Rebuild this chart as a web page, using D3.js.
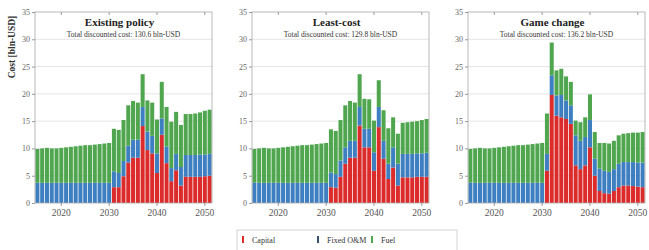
<!DOCTYPE html>
<html><head><meta charset="utf-8">
<script src="https://cdn.jsdelivr.net/npm/d3@7"></script>
<style>body{margin:0;background:#fff}svg text{font-family:"Liberation Serif","Times New Roman",serif}</style>
</head><body>
<svg id="c" width="649" height="250"></svg>
<script>
const years = [2015,2016,2017,2018,2019,2020,2021,2022,2023,2024,2025,2026,2027,2028,2029,2030,
  2031,2032,2033,2034,2035,2036,2037,2038,2039,2040,2041,2042,2043,2044,2045,2046,2047,2048,2049,2050,2051];
const xTicks = [2020, 2030, 2040, 2050];
const yTicks = [0, 5, 10, 15, 20, 25, 30, 35];
const seriesNames = ["Capital", "Fixed O&M", "Fuel"];

const titles = ["Existing policy", "Least-cost", "Game change"];
const subtitles = ["Total discounted cost: 130.6 bln-USD", "Total discounted cost: 129.8 bln-USD", "Total discounted cost: 136.2 bln-USD"];

// Existing policy
const capitalExisting = [0,0,0,0,0,0,0,0,0,0,0,0,0,0,0,0,
  2.9,2.9,4.9,7.4,8.3,8.3,14.1,9.7,9.1,5.5,12.5,7.3,4.0,6.0,3.2,4.8,4.8,4.8,4.8,4.9,5.0];
const omExisting = [3.7,3.7,3.7,3.7,3.7,3.7,3.7,3.7,3.7,3.7,3.7,3.7,3.7,3.7,3.7,3.7,
  2.9,2.6,2.8,3.1,3.3,3.3,3.5,3.4,3.2,3.6,3.0,3.0,2.4,3.0,3.4,4.0,4.0,4.0,4.1,4.0,4.0];
const fuelExisting = [6.2,6.3,6.4,6.3,6.3,6.4,6.5,6.6,6.7,6.8,6.9,6.9,7.0,7.1,7.2,7.3,
  7.8,7.9,7.5,7.4,7.1,6.8,6.0,5.7,6.1,6.2,6.7,7.3,8.5,7.7,7.7,7.5,7.5,7.6,7.7,8.0,8.1];

// Least-cost
const capitalLeast = [0,0,0,0,0,0,0,0,0,0,0,0,0,0,0,0,
  2.9,2.8,4.8,7.2,8.3,8.3,14.2,10.2,10.2,5.9,13.9,8.1,4.4,6.5,3.2,4.7,4.7,4.7,4.8,4.8,4.8];
const omLeast = [3.7,3.7,3.7,3.7,3.7,3.7,3.7,3.7,3.7,3.7,3.7,3.7,3.7,3.7,3.7,3.7,
  2.7,2.5,3.0,3.0,3.1,3.1,3.4,3.4,3.4,3.4,3.7,3.3,2.8,3.7,4.0,4.3,4.3,4.3,4.3,4.3,4.4];
const fuelLeast = [6.2,6.3,6.4,6.3,6.3,6.4,6.5,6.6,6.7,6.8,6.9,6.9,7.0,7.1,7.2,7.3,
  7.9,7.9,7.4,7.7,7.3,7.0,6.0,5.5,5.4,5.8,4.9,5.6,6.5,5.5,5.5,5.7,5.8,5.9,5.9,6.1,6.2];

// Game change
const capitalGame = [0,0,0,0,0,0,0,0,0,0,0,0,0,0,0,0,
  5.9,19.8,16.0,15.7,15.4,14.5,6.9,6.2,6.9,10.2,5.0,2.2,1.8,1.7,2.2,2.9,3.2,3.2,3.1,3.0,2.9];
const omGame = [3.7,3.7,3.7,3.7,3.7,3.7,3.7,3.7,3.7,3.7,3.7,3.7,3.7,3.7,3.7,3.7,
  3.1,3.6,3.7,4.1,3.4,3.4,5.5,5.2,5.2,5.0,3.1,4.1,4.1,4.0,4.0,4.3,4.3,4.3,4.4,4.4,4.5];
const fuelGame = [6.2,6.3,6.4,6.3,6.3,6.4,6.5,6.6,6.7,6.8,6.9,6.9,7.0,7.1,7.2,7.3,
  7.4,6.0,4.6,4.8,4.4,4.3,2.7,3.4,3.6,4.7,4.9,4.7,5.1,5.2,5.2,5.2,5.2,5.3,5.4,5.5,5.6];

const scenarios = [
  [capitalExisting, omExisting, fuelExisting],
  [capitalLeast, omLeast, fuelLeast],
  [capitalGame, omGame, fuelGame]
];

const colors = ["#dc2b2b", "#3e7fc1", "#4fa64e"];
const legendColors = ["#dc2b2b", "#34506e", "#4fa64e"];

const svg = d3.select("#c");
const panelLeft = [35, 252, 468];
const pw = 177, plotTop = 12, plotBottom = 203;

const y = d3.scaleLinear().domain([0, 35]).range([plotBottom, plotTop]);

scenarios.forEach((sc, i) => {
  const g = svg.append("g").attr("transform", `translate(${panelLeft[i]},0)`);
  const x = d3.scaleBand().domain(years).range([0, pw]).paddingInner(0.16).paddingOuter(0.08);

  // grid
  g.append("g").selectAll("line").data(yTicks.slice(1, -1)).join("line")
    .attr("x1", 0).attr("x2", pw).attr("y1", d => y(d)).attr("y2", d => y(d))
    .attr("stroke", "#dedede").attr("stroke-width", 0.8);

  const rows = years.map((yr, k) => ({year: yr, c: sc[0][k], o: sc[1][k], f: sc[2][k]}));
  const stack = d3.stack().keys(["c", "o", "f"])(rows);
  g.append("g").selectAll("g").data(stack).join("g")
    .attr("fill", (d, j) => colors[j])
    .selectAll("rect").data(d => d).join("rect")
    .attr("x", d => x(d.data.year))
    .attr("width", x.bandwidth())
    .attr("y", d => y(d[1]))
    .attr("height", d => Math.max(0, y(d[0]) - y(d[1])));

  // frame
  g.append("rect").attr("x", 0).attr("y", plotTop).attr("width", pw).attr("height", plotBottom - plotTop)
    .attr("fill", "none").attr("stroke", "#a8a8a8").attr("stroke-width", 0.8);

  // y axis
  const ya = g.append("g").call(d3.axisLeft(y).tickValues(yTicks).tickSize(3).tickPadding(2));
  ya.select(".domain").remove();
  ya.selectAll("line").attr("stroke", "#999");
  ya.selectAll("text").attr("font-size", 8).attr("fill", "#666")
    .style("font-family", "'Liberation Serif', serif");

  // x axis
  const xa = g.append("g").attr("transform", `translate(0,${plotBottom})`)
    .call(d3.axisBottom(x).tickValues(xTicks).tickSize(3).tickPadding(3));
  xa.select(".domain").remove();
  xa.selectAll("line").attr("stroke", "#999");
  xa.selectAll("text").attr("font-size", 9.5).attr("fill", "#555")
    .style("font-family", "'Liberation Serif', serif");

  // top ticks
  g.append("g").selectAll("line").data(xTicks).join("line")
    .attr("x1", d => x(d) + x.bandwidth() / 2).attr("x2", d => x(d) + x.bandwidth() / 2)
    .attr("y1", plotTop).attr("y2", plotTop + 3).attr("stroke", "#999");

  g.append("text").attr("x", pw / 2 - 4).attr("y", 26).attr("text-anchor", "middle")
    .attr("font-size", 11).attr("font-weight", "bold").attr("fill", "#222").text(titles[i]);
  g.append("text").attr("x", pw / 2).attr("y", 37).attr("text-anchor", "middle")
    .attr("font-size", 7.5).attr("fill", "#333").text(subtitles[i]);
});

svg.append("text").attr("transform", "translate(15,47) rotate(-90)")
  .attr("text-anchor", "middle").attr("font-size", 9.5).attr("font-weight", "bold")
  .attr("fill", "#333").text("Cost [bln-USD]");

// legend
const lg = svg.append("g");
lg.append("rect").attr("x", 237).attr("y", 230).attr("width", 220).attr("height", 24)
  .attr("fill", "#fff").attr("stroke", "#c8c8c8").attr("stroke-width", 0.8);
const legX = [243, 318, 372];
seriesNames.forEach((n, j) => {
  lg.append("rect").attr("x", legX[j] - 1).attr("y", 236).attr("width", 2).attr("height", 7)
    .attr("fill", legendColors[j]);
  lg.append("text").attr("x", legX[j] + 9).attr("y", 243).attr("font-size", 8)
    .attr("fill", "#333").text(n);
});
</script>
</body></html>
